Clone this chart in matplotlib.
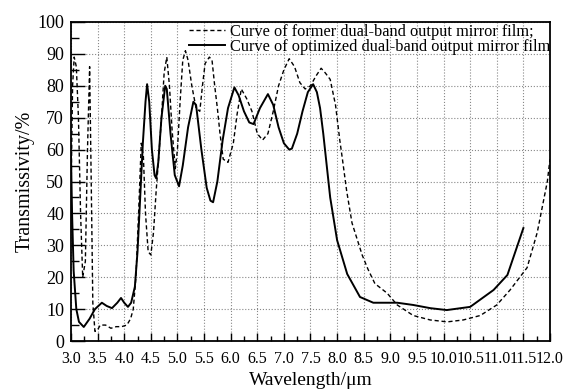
"""
Transmissivity of the former and optimized dual-band output mirror films.
"""

import matplotlib
matplotlib.use('Agg')
import matplotlib.pyplot as plt
import numpy as np
from matplotlib.ticker import MultipleLocator

plt.rcParams['font.family'] = ['Liberation Serif', 'DejaVu Serif']
plt.rcParams['mathtext.fontset'] = 'stix'

# former film (dashed curve), wavelength in um, transmissivity in %
former_wl = [3.00, 3.03, 3.06, 3.10, 3.14, 3.18, 3.22, 3.27, 3.31, 3.35, 3.38,
             3.41, 3.45, 3.50, 3.55, 3.65, 3.75, 3.85, 3.95, 4.05, 4.12, 4.17,
             4.22, 4.27, 4.32, 4.36, 4.40, 4.45, 4.50, 4.55, 4.60, 4.65, 4.70,
             4.75, 4.80, 4.85, 4.90, 4.96, 5.00, 5.05, 5.10, 5.15, 5.20, 5.27,
             5.35, 5.42, 5.47, 5.52, 5.60, 5.65, 5.70, 5.75, 5.80, 5.86, 5.95,
             6.05, 6.12, 6.20, 6.30, 6.40, 6.50, 6.60, 6.70, 6.80, 6.90, 7.00,
             7.10, 7.20, 7.30, 7.40, 7.50, 7.60, 7.70, 7.78, 7.87, 7.97, 8.05,
             8.10, 8.18, 8.28, 8.47, 8.58, 8.71, 8.94, 9.13, 9.43, 9.75, 10.07,
             10.37, 10.69, 11.00, 11.25, 11.57, 11.76, 11.95, 12.00]
former_t = [45, 80, 89, 86, 70, 40, 20, 25, 60, 86, 50,
            12, 3, 3.5, 5, 5, 4, 4.5, 4.5, 5, 7, 10,
            20, 40, 62, 58, 40, 28, 27, 34, 47, 58, 70,
            84, 89, 80, 66, 54, 60, 75, 88, 91, 88, 80,
            73, 72, 80, 87, 89, 88, 80, 73, 65, 57, 56,
            62, 71, 79, 76, 72, 65, 63, 65, 72, 80, 85,
            88.5, 86, 81, 79, 80, 83, 85.5, 84, 82, 74, 63,
            57, 47, 37, 27, 22.5, 18, 15, 11.3, 8, 6.6, 6,
            6.6, 8, 11.3, 16, 23, 34, 50, 57]

# optimized film (solid curve)
optim_wl = [3.00, 3.02, 3.05, 3.10, 3.15, 3.24, 3.35, 3.45, 3.58, 3.67, 3.77,
            3.87, 3.94, 4.00, 4.07, 4.13, 4.20, 4.25, 4.30, 4.35, 4.40, 4.43,
            4.47, 4.52, 4.57, 4.60, 4.64, 4.70, 4.77, 4.80, 4.87, 4.95, 5.03,
            5.10, 5.20, 5.30, 5.35, 5.45, 5.55, 5.62, 5.67, 5.75, 5.85, 5.95,
            6.07, 6.15, 6.25, 6.35, 6.43, 6.55, 6.70, 6.80, 6.90, 7.00, 7.10,
            7.15, 7.25, 7.35, 7.45, 7.55, 7.62, 7.68, 7.74, 7.87, 8.00, 8.19,
            8.43, 8.68, 9.13, 9.43, 9.75, 10.06, 10.50, 10.94, 11.20, 11.50]
optim_t = [58, 40, 22, 10, 6, 4.4, 7, 10, 12, 11, 10.3,
           12, 13.5, 12, 10.7, 12, 17, 28, 45, 62, 75, 80.5,
           75, 60, 52, 51, 56, 70, 80, 79, 65, 52, 48.5,
           55, 67, 75, 74, 60, 48, 44, 43.5, 50, 63, 73,
           79.5, 77, 72, 68.5, 68, 73, 77.4, 74, 67, 62, 60,
           60.3, 65, 72, 78, 80.5, 78, 73, 65, 45, 31.6, 21,
           13.8, 12, 12, 11.3, 10.3, 9.7, 10.7, 16, 20.7, 35.4]

x_ticks = np.arange(3.0, 12.01, 0.5)
y_ticks = np.arange(0, 101, 10)

fig = plt.figure(figsize=(5.63, 3.90), dpi=100)
ax = fig.add_axes([0.1261, 0.1256, 0.8508, 0.818])

ax.plot(former_wl, former_t, color='black', lw=1.0, linestyle=(0, (3, 2)),
        label='Curve of former dual-band output mirror film;')
ax.plot(optim_wl, optim_t, color='black', lw=1.4,
        label='Curve of optimized dual-band output mirror film')

ax.set_xlim(3.0, 12.0)
ax.set_ylim(0, 100)
ax.set_xticks(x_ticks)
ax.set_xticklabels(['%.1f' % v for v in x_ticks], fontsize=11.5)
ax.set_yticks(y_ticks)
ax.set_yticklabels(['%d' % v for v in y_ticks], fontsize=13)
ax.xaxis.set_minor_locator(MultipleLocator(0.25))
ax.yaxis.set_minor_locator(MultipleLocator(5))
ax.tick_params(which='major', direction='in', length=6, width=1.0,
               top=False, right=False)
ax.tick_params(which='minor', direction='in', length=3.5, width=1.0,
               top=False, right=False)
ax.tick_params(axis='x', which='major', pad=7)
ax.tick_params(axis='y', which='major', length=10, pad=5)
ax.tick_params(axis='y', which='minor', length=6)

ax.grid(True, which='major', color='#888888', linestyle=':', lw=0.8)
for s in ax.spines.values():
    s.set_linewidth(1.3)

ax.set_xlabel('Wavelength/\u03bcm', fontsize=14, labelpad=4)
ax.set_ylabel('Transmissivity/%', fontsize=14.5, labelpad=2)

leg = ax.legend(loc='upper right', bbox_to_anchor=(1.0, 0.995), frameon=False,
                fontsize=11.8, handlelength=2.2, handletextpad=0.3,
                labelspacing=-0.05, borderaxespad=0.0, borderpad=0.0)

fig.savefig('out.png', dpi=100)
